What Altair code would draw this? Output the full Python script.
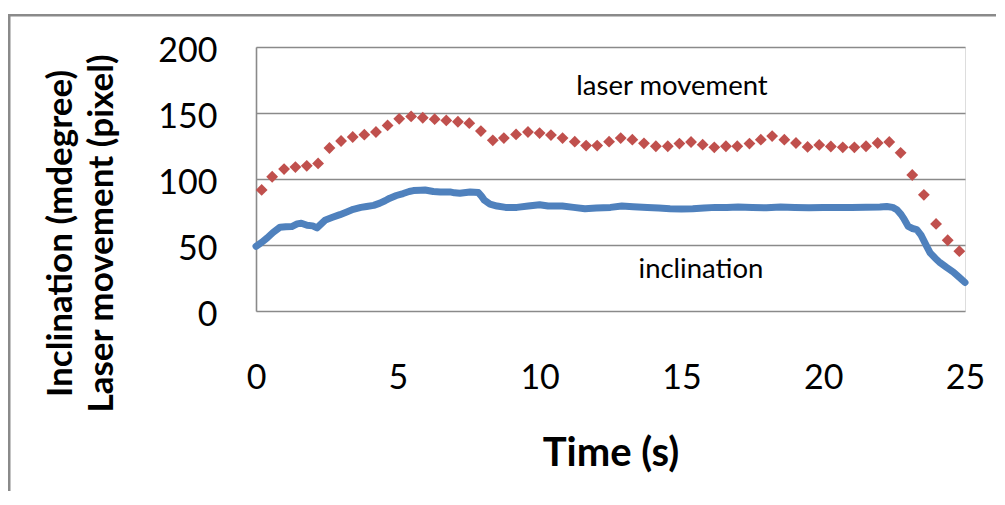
import altair as alt
import pandas as pd

# ---- data ----
incl_t = [0.0, 0.2, 0.4, 0.6, 0.85, 1.05, 1.26, 1.45, 1.6, 1.8, 2.0, 2.15, 2.3, 2.45, 2.7, 2.96,
          3.2, 3.43, 3.7, 3.9, 4.15, 4.37, 4.55, 4.72, 4.95, 5.19, 5.4, 5.55, 5.8, 5.96, 6.25,
          6.5, 6.84, 7.0, 7.19, 7.4, 7.55, 7.84, 7.95, 8.05, 8.25, 8.5, 8.8, 9.2, 9.6, 10.0,
          10.3, 10.8, 11.2, 11.6, 12.0, 12.5, 12.9, 13.3, 13.8, 14.2, 14.6, 15.0, 15.4, 15.8,
          16.2, 16.6, 17.0, 17.5, 18.0, 18.5, 19.0, 19.5, 20.0, 20.5, 21.0, 21.5, 22.0, 22.24,
          22.45, 22.6, 22.75, 22.83, 23.0, 23.15, 23.3, 23.45, 23.53, 23.65, 23.77, 23.95,
          24.12, 24.35, 24.59, 24.8, 25.0]
incl_v = [49, 52, 55.5, 59.5, 63.5, 63.8, 64, 66, 66.5, 65, 64.5, 63, 66, 69, 71, 73,
          75, 77, 78.5, 79.2, 80, 81.7, 83.5, 85.5, 87.5, 89, 90.5, 91.2, 91.5, 91.7, 90.5,
          90.2, 90.2, 89.5, 89.2, 89.8, 90.2, 89.7, 87, 84, 81, 79.5, 78.5, 78.5, 79.5, 80.5,
          79.5, 79.5, 78.5, 77.5, 78, 78.5, 79.5, 79, 78.5, 78, 77.5, 77.2, 77.5, 78,
          78.5, 78.5, 78.7, 78.5, 78.2, 78.7, 78.5, 78.3, 78.5, 78.5, 78.4, 78.6, 78.8, 79.2,
          78.5, 76.7, 73, 70.4, 64.1, 62.5, 61.7, 57.5, 54.1, 49, 44.1, 40,
          36.6, 33, 29.5, 25.5, 21.6]

laser_t = [0.2, 0.57, 0.99, 1.39, 1.79, 2.19, 2.59, 3.0, 3.41, 3.82, 4.23, 4.64, 5.05, 5.47,
           5.88, 6.3, 6.71, 7.12, 7.52, 7.93, 8.35, 8.74, 9.17, 9.59, 10.0, 10.4, 10.81, 11.24,
           11.64, 12.03, 12.45, 12.86, 13.27, 13.68, 14.1, 14.52, 14.93, 15.34, 15.75, 16.16,
           16.57, 16.97, 17.4, 17.8, 18.2, 18.63, 19.04, 19.45, 19.86, 20.27, 20.69, 21.1,
           21.51, 21.92, 22.33, 22.73, 23.14, 23.55, 23.98, 24.39, 24.8]
laser_v = [91.7, 101.7, 107.5, 109, 110, 111.8, 123.5, 128.8, 131.8, 133.6, 135.6, 140.6, 145.6, 147.4,
           146.4, 145.3, 144.4, 143.4, 142.3, 136.3, 129.3, 131, 133.8, 135.6, 134.8, 133.3, 131, 128.3,
           125.3, 125.3, 128.3, 131, 129.8, 127, 124.8, 124.8, 126.8, 128, 126, 124,
           124.8, 124.8, 126.8, 129.8, 132.5, 129.8, 127.3, 124.3, 125.8, 124.6, 124, 124,
           124.8, 127.3, 128, 119.8, 103, 88, 66, 53.6, 45.3]

label_text = ["laser movement", "inclination"]
label_t = [14.67, 15.69]
label_v = [169.5, 31]

x_ticks = [0, 5, 10, 15, 20, 25]
y_ticks = [0, 50, 100, 150, 200]

incl_df = pd.DataFrame({"t": incl_t, "v": incl_v})
laser_df = pd.DataFrame({"t": laser_t, "v": laser_v})
label_df = pd.DataFrame({"t": label_t, "v": label_v, "text": label_text})

FONT = "Lato"

x_scale = alt.Scale(domain=[0, 25], nice=False, zero=False)
y_scale = alt.Scale(domain=[0, 200], nice=False)

x_axis = alt.Axis(
    values=x_ticks, title="Time (s)", grid=False, domain=False, ticks=False, tickSize=0,
    labelFont=FONT, labelFontSize=34, labelColor="black", labelPadding=50,
    titleFont=FONT, titleFontSize=40, titleFontWeight="bold", titleColor="black",
    titlePadding=38, labelFlush=False,
)
y_axis = alt.Axis(
    values=y_ticks, title=["Inclination (mdegree)", "Laser movement (pixel)"],
    grid=True, gridColor="#8a8a8a", gridWidth=1.6, gridOpacity=1,
    domain=True, domainColor="#8a8a8a", domainWidth=1.6,
    ticks=False, tickSize=0,
    labelFont=FONT, labelFontSize=34, labelColor="black", labelPadding=39, labelOffset=4,
    titleFont=FONT, titleFontSize=35, titleFontWeight="bold", titleColor="black",
    titleX=-178, titleY=186, titleLineHeight=41,
)

incl = alt.Chart(incl_df).mark_line(color="#4F81BD", strokeWidth=7, strokeJoin="round", strokeCap="round").encode(
    x=alt.X("t:Q", scale=x_scale, axis=x_axis),
    y=alt.Y("v:Q", scale=y_scale, axis=y_axis),
)

laser = alt.Chart(laser_df).mark_point(shape="diamond", filled=True, size=140, color="#C0504D", opacity=1).encode(
    x=alt.X("t:Q", scale=x_scale),
    y=alt.Y("v:Q", scale=y_scale),
)

labels = alt.Chart(label_df).mark_text(font=FONT, fontSize=27.5, color="black").encode(
    x=alt.X("t:Q", scale=x_scale),
    y=alt.Y("v:Q", scale=y_scale),
    text="text:N",
)

frame_left = alt.Chart(label_df.head(1)).mark_rect(color="#8a8a8a").encode(
    x=alt.value(-248), x2=alt.value(-245.5), y=alt.value(-33), y2=alt.value(480)
)
frame_top = alt.Chart(label_df.head(1)).mark_rect(color="#8a8a8a").encode(
    x=alt.value(-248), x2=alt.value(740), y=alt.value(-33), y2=alt.value(-30.5)
)

chart = alt.layer(frame_left, frame_top, incl, laser, labels).properties(
    width=709, height=264,
    autosize=alt.AutoSizeParams(type="none"),
    padding={"left": 248, "top": 39, "right": 32, "bottom": 180},
).configure_view(stroke=None).configure(background="white")

chart.save("out.html", embed_options={"renderer": "svg", "actions": False})
